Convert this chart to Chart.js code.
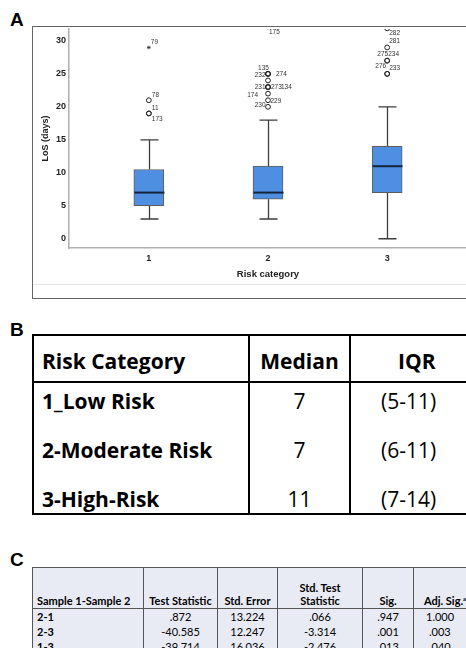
<!DOCTYPE html>
<html>
<head>
<meta charset="utf-8">
<title>LoS by risk category</title>
<script src="https://cdn.jsdelivr.net/npm/chart.js@4.4.1/dist/chart.umd.min.js"></script>
<style>
  html, body { margin: 0; padding: 0; background: #fff; }
  body { position: relative; width: 466px; height: 648px; overflow: hidden; font-family: "Liberation Sans", Arial, sans-serif; color: #000; }
  .tag { position: absolute; left: 10px; font-weight: bold; font-size: 19px; line-height: 19px; }
  #frameA { position: absolute; left: 32px; top: 26px; width: 470px; height: 271px; border: 1px solid #666; border-right: 0; }
  #frameA .foot { position: absolute; left: 0; right: 0; top: 257px; border-top: 1px solid #e4e4e4; }
  #chartA { position: absolute; left: 0; top: 0; }

  #tableB { position: absolute; left: 32px; top: 334px; border-collapse: separate; border-spacing: 0; border: 2px solid #000; table-layout: fixed; width: 446px; font-family: "Open Sans", Lato, sans-serif; font-size: 21px; line-height: 25px; }
  #tableB th, #tableB td { padding: 0; vertical-align: bottom; box-sizing: border-box; white-space: nowrap; }
  #tableB th { height: 47px; padding-bottom: 7px; border-bottom: 2px solid #000; font-weight: bold; }
  #tableB td { height: 49px; padding-bottom: 1px; }
  #tableB tr.first td { height: 32px; }
  #tableB .c0 { text-align: left; padding-left: 8px; font-weight: bold; }
  #tableB .c1 { text-align: center; border-left: 2px solid #000; }
  #tableB .c2 { text-align: left; padding-left: 30px; border-left: 2px solid #000; }
  #tableB th.c2 { padding-left: 47px; }

  #tableC { position: absolute; left: 32px; top: 567px; border-collapse: collapse; table-layout: fixed; width: 450px; background: #e9ebf4; font-family: Lato, "Open Sans", sans-serif; font-size: 11px; line-height: 13px; }
  #tableC th, #tableC td { border-left: 1px solid #555; border-right: 1px solid #555; padding: 0 3px; text-align: center; white-space: nowrap; }
  #tableC th { height: 39px; vertical-align: bottom; padding-bottom: 1px; border-top: 1px solid #555; border-bottom: 1px solid #555; font-weight: bold; }
  #tableC td { height: 15px; vertical-align: middle; font-weight: normal; }
  #tableC .lab { text-align: left; padding-left: 4px; font-weight: bold; }
  #tableC .last { text-align: left; padding-left: 10px; }
  #tableC sup { font-size: 6px; vertical-align: 4px; line-height: 0; }
</style>
</head>
<body>
<div class="tag" style="top:10px">A</div>
<div id="frameA"><div class="foot"></div></div>
<canvas id="chartA" width="520" height="300"></canvas>

<div class="tag" style="top:320px">B</div>
<table id="tableB"></table>

<div class="tag" style="top:550px">C</div>
<table id="tableC"></table>

<script>
// box plot summary per risk category (LoS, days)
const categories = ['1', '2', '3'];
const whiskerLow = [3, 3, 0];
const q1 = [5, 6, 7];
const medians = [7, 7, 11];
const q3 = [10.5, 11, 14];
const whiskerHigh = [15, 18, 20];
const yTicks = [0, 5, 10, 15, 20, 25, 30];

// outliers: category, value, case id
const outlierGroup = [1, 1, 1, 1, 2, 2, 2, 2, 2, 2, 2, 2, 2, 2, 2, 3, 3, 3, 3, 3, 3];
const outlierValue = [29, 21, 19, 19, 32, 25, 25, 25, 24, 23, 23, 23, 22, 21, 20, 31.9, 29, 27, 27, 25, 25];
const outlierId = ['79', '78', '11', '173', '175', '135', '232', '274', '', '231', '273', '134', '174', '229', '230', '282', '281', '275', '234', '276', '233'];
const extremeIds = ['79', '175'];

// where each case id sits next to its marker (dx, dy in px, text align)
const labelPos = [
  [2, -5, 'left'], [3, -5, 'left'], [3, -5.5, 'left'], [3, 5.5, 'left'],
  [1, 5, 'left'], [-4.5, -6, 'center'], [-2.5, 1.5, 'right'], [8, 0.5, 'left'], [0, 0, 'left'],
  [-2.5, 0.5, 'right'], [3, 0, 'left'], [13, 0, 'left'], [-10, 2, 'right'], [2.5, 0.5, 'left'], [-2.5, -1.3, 'right'],
  [2, 4.5, 'left'], [2, -6, 'left'], [1, -6, 'right'], [1, -6, 'left'], [-1, -7.3, 'right'], [2, -6, 'left']
];

// panel B
const riskNames = ['1_Low Risk', '2-Moderate Risk', '3-High-Risk'];
const medianText = ['7', '7', '11'];
const iqrText = ['(5-11)', '(6-11)', '(7-14)'];

// panel C pairwise comparisons
const pairs = ['2-1', '2-3', '1-3'];
const testStat = ['.872', '-40.585', '-39.714'];
const stdError = ['13.224', '12.247', '16.036'];
const stdTestStat = ['.066', '-3.314', '-2.476'];
const sigVals = ['.947', '.001', '.013'];
const adjSigVals = ['1.000', '.003', '.040'];

const boxWidth = 30;
const capWidth = 18;
const tickFont = { family: 'Liberation Sans', size: 9, weight: 'bold' };

const boxData = categories.map((c, i) => ({ x: Number(c), y: [q1[i], q3[i]] }));
const circleData = [];
const starData = [];
outlierValue.forEach((v, i) => {
  const pt = { x: outlierGroup[i], y: v };
  if (extremeIds.indexOf(outlierId[i]) >= 0) starData.push(pt); else circleData.push(pt);
});

const boxParts = {
  id: 'boxParts',
  beforeDatasetsDraw(chart) {
    const { ctx, scales: { x, y } } = chart;
    ctx.save();
    ctx.strokeStyle = '#3c3c3c';
    ctx.lineWidth = 1.3;
    categories.forEach((c, i) => {
      const cx = Math.round(x.getPixelForValue(Number(c))) + 0.5;
      const yl = y.getPixelForValue(whiskerLow[i]);
      const yh = y.getPixelForValue(whiskerHigh[i]);
      ctx.beginPath();
      ctx.moveTo(cx, yl); ctx.lineTo(cx, y.getPixelForValue(q1[i]));
      ctx.moveTo(cx, y.getPixelForValue(q3[i])); ctx.lineTo(cx, yh);
      ctx.moveTo(cx - capWidth / 2, yl); ctx.lineTo(cx + capWidth / 2, yl);
      ctx.moveTo(cx - capWidth / 2, yh); ctx.lineTo(cx + capWidth / 2, yh);
      ctx.stroke();
    });
    ctx.restore();
  },
  afterDatasetsDraw(chart) {
    const { ctx, scales: { x, y } } = chart;
    ctx.save();
    ctx.strokeStyle = '#14243a';
    ctx.lineWidth = 2;
    categories.forEach((c, i) => {
      const cx = Math.round(x.getPixelForValue(Number(c))) + 0.5;
      const ym = y.getPixelForValue(medians[i]);
      ctx.beginPath();
      ctx.moveTo(cx - boxWidth / 2, ym); ctx.lineTo(cx + boxWidth / 2, ym);
      ctx.stroke();
    });
    // case ids
    ctx.fillStyle = '#333';
    ctx.font = '6.5px "Liberation Sans", Arial, sans-serif';
    ctx.textBaseline = 'middle';
    outlierId.forEach((id, i) => {
      if (!id) return;
      const px = x.getPixelForValue(outlierGroup[i]);
      const py = y.getPixelForValue(outlierValue[i]);
      ctx.textAlign = labelPos[i][2];
      ctx.fillText(id, px + labelPos[i][0], py + labelPos[i][1]);
    });
    ctx.restore();
  }
};

new Chart(document.getElementById('chartA').getContext('2d'), {
  type: 'scatter',
  data: {
    datasets: [
      {
        type: 'bar',
        data: boxData,
        backgroundColor: '#4f8fe2',
        borderColor: '#5c5c5c',
        borderWidth: 1,
        borderSkipped: false,
        barThickness: boxWidth,
        order: 2
      },
      {
        data: circleData,
        pointStyle: 'circle',
        pointRadius: 2.4,
        pointBorderWidth: 1,
        pointBorderColor: '#222',
        pointBackgroundColor: 'rgba(255,255,255,0)',
        order: 1
      },
      {
        data: starData,
        pointStyle: 'star',
        pointRadius: 1.8,
        pointBorderWidth: 0.8,
        pointBorderColor: '#333',
        order: 1
      }
    ]
  },
  options: {
    responsive: false,
    animation: false,
    events: [],
    layout: { padding: { top: 29, right: 53, bottom: 0, left: 0 } },
    plugins: { legend: { display: false }, tooltip: { enabled: false } },
    scales: {
      x: {
        type: 'linear',
        min: 0.33,
        max: 3.67,
        offset: false,
        afterBuildTicks: s => { s.ticks = categories.map(c => ({ value: Number(c) })); },
        afterFit: s => { s.height = 52; },
        grid: { display: false, drawTicks: false },
        border: { display: true, color: '#b0b0b0', width: 1.5 },
        ticks: { font: tickFont, color: '#222', padding: 5, callback: v => categories[v - 1] },
        title: { display: true, text: 'Risk category', font: { family: 'Liberation Sans', size: 9.5, weight: 'bold' }, color: '#222', padding: { top: 0, bottom: 20 } }
      },
      y: {
        min: -1.4,
        max: 31.8,
        afterBuildTicks: s => { s.ticks = yTicks.map(v => ({ value: v })); },
        afterFit: s => { s.width = 69; },
        grid: { display: false, drawTicks: false },
        border: { display: true, color: '#b0b0b0', width: 1.5 },
        ticks: { font: tickFont, color: '#222', padding: 3 },
        title: { display: true, text: 'LoS (days)', font: { family: 'Liberation Sans', size: 9, weight: 'bold' }, color: '#222', padding: { top: 40, bottom: 0 } }
      }
    }
  },
  plugins: [boxParts]
});

// panel B table
(function () {
  let html = '<colgroup><col style="width:214px"><col style="width:101px"><col style="width:131px"></colgroup>';
  html += '<tr><th class="c0">Risk Category</th><th class="c1">Median</th><th class="c2">IQR</th></tr>';
  riskNames.forEach((n, i) => {
    html += '<tr' + (i === 0 ? ' class="first"' : '') + '><td class="c0">' + n + '</td><td class="c1">' + medianText[i] + '</td><td class="c2">' + iqrText[i] + '</td></tr>';
  });
  document.getElementById('tableB').innerHTML = html;
})();

// panel C table
(function () {
  let html = '<colgroup><col style="width:111px"><col style="width:74px"><col style="width:60px"><col style="width:85px"><col style="width:51px"><col style="width:69px"></colgroup>';
  html += '<tr><th class="lab">Sample 1-Sample 2</th><th>Test Statistic</th><th>Std. Error</th><th>Std. Test<br>Statistic</th><th>Sig.</th><th class="last">Adj. Sig.<sup>a</sup></th></tr>';
  pairs.forEach((p, i) => {
    html += '<tr><td class="lab">' + p + '</td><td>' + testStat[i] + '</td><td>' + stdError[i] + '</td><td>' + stdTestStat[i] + '</td><td>' + sigVals[i] + '</td><td class="last" style="padding-left:' + (adjSigVals[i].length > 4 ? 12 : 15) + 'px">' + adjSigVals[i] + '</td></tr>';
  });
  document.getElementById('tableC').innerHTML = html;
})();
</script>
</body>
</html>
